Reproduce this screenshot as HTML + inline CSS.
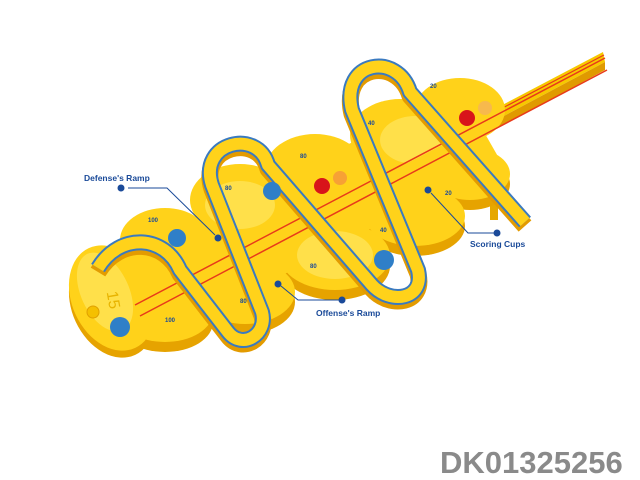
<!DOCTYPE html>
<html><head><meta charset="utf-8"><style>
html,body{margin:0;padding:0;background:#fff;width:640px;height:480px;overflow:hidden}
svg{display:block}
.lbl{font-family:"Liberation Sans",sans-serif;font-weight:bold;font-size:8.5px;fill:#1a4a99}
.num{font-family:"Liberation Sans",sans-serif;font-weight:bold;font-size:6px;fill:#1a4a99}
</style></head><body>
<svg width="640" height="480" viewBox="0 0 640 480">
<!-- rail extension -->
<polygon points="470,122 603,52 605,62 472,133" fill="#f7c800"/>
<polygon points="472,133 605,62 605,70 474,141" fill="#e09a00"/>
<line x1="470" y1="125" x2="604" y2="55" stroke="#e83a1a" stroke-width="1.2"/>
<rect x="490" y="195" width="8" height="25" fill="#e6a800"/>
<!-- base shadow -->
<g fill="#e6a300">
<ellipse cx="112" cy="305" rx="40" ry="55" transform="rotate(-25 112 305)"/>
<ellipse cx="165" cy="322" rx="48" ry="30"/>
<ellipse cx="245" cy="302" rx="50" ry="32"/>
<ellipse cx="335" cy="266" rx="55" ry="34"/>
<ellipse cx="415" cy="226" rx="50" ry="30"/>
<ellipse cx="470" cy="184" rx="40" ry="26"/>
</g>
<!-- base -->
<g fill="#ffd21a">
<ellipse cx="112" cy="298" rx="40" ry="55" transform="rotate(-25 112 298)"/>
<ellipse cx="165" cy="240" rx="45" ry="32"/>
<ellipse cx="165" cy="312" rx="48" ry="30"/>
<ellipse cx="240" cy="200" rx="50" ry="36"/>
<ellipse cx="245" cy="292" rx="50" ry="32"/>
<ellipse cx="315" cy="170" rx="50" ry="36"/>
<ellipse cx="335" cy="256" rx="55" ry="34"/>
<ellipse cx="400" cy="135" rx="50" ry="36"/>
<ellipse cx="415" cy="216" rx="50" ry="30"/>
<ellipse cx="460" cy="110" rx="45" ry="32"/>
<ellipse cx="470" cy="174" rx="40" ry="26"/>
<polygon points="110,260 460,90 500,160 160,340"/>
</g>
<g fill="#ffe04a">
<ellipse cx="105" cy="292" rx="24" ry="42" transform="rotate(-25 105 292)"/>
<ellipse cx="240" cy="205" rx="35" ry="24"/>
<ellipse cx="335" cy="255" rx="38" ry="24"/>
<ellipse cx="415" cy="140" rx="35" ry="24"/>
</g>
<text x="100" y="300" font-family="'Liberation Sans',sans-serif" font-size="16" fill="#e8b400" transform="rotate(80 108 300)">15</text>
<!-- rail -->
<polygon points="135,305 475,128 480,140 140,317" fill="#ffd21a"/>
<line x1="135" y1="305" x2="605" y2="58" stroke="#e83a1a" stroke-width="1.5"/>
<line x1="140" y1="316" x2="607" y2="70" stroke="#e83a1a" stroke-width="1.5"/>
<!-- track -->
<g fill="none" stroke-linejoin="round">
<path d="M98,268 C120,232 165,235 180,270 L228,332 C242,350 268,335 262,312 L212,185 C198,142 258,128 268,165 L372,285 C390,305 425,300 418,270 L352,110 C340,60 398,52 410,92 L525,222" stroke="#e39b00" stroke-width="17" transform="translate(0,4)"/>
<path d="M98,268 C120,232 165,235 180,270 L228,332 C242,350 268,335 262,312 L212,185 C198,142 258,128 268,165 L372,285 C390,305 425,300 418,270 L352,110 C340,60 398,52 410,92 L525,222" stroke="#3a7ac0" stroke-width="16"/>
<path d="M98,268 C120,232 165,235 180,270 L228,332 C242,350 268,335 262,312 L212,185 C198,142 258,128 268,165 L372,285 C390,305 425,300 418,270 L352,110 C340,60 398,52 410,92 L525,222" stroke="#ffd21a" stroke-width="12"/>
</g>
<!-- balls -->
<circle cx="93" cy="312" r="6" fill="#f5c000" stroke="#e0a000"/>
<g fill="#2f7fc8"><circle cx="177" cy="238" r="9"/><circle cx="120" cy="327" r="10"/><circle cx="272" cy="191" r="9"/><circle cx="384" cy="260" r="10"/></g>
<g fill="#d8141a"><circle cx="322" cy="186" r="8"/><circle cx="467" cy="118" r="8"/></g>
<circle cx="340" cy="178" r="7" fill="#f07050" opacity=".5"/>
<circle cx="485" cy="108" r="7" fill="#f0a080" opacity=".5"/>
<!-- numbers -->
<text class="num" x="148" y="222">100</text><text class="num" x="165" y="322">100</text>
<text class="num" x="225" y="190">80</text><text class="num" x="240" y="303">80</text>
<text class="num" x="300" y="158">80</text><text class="num" x="310" y="268">80</text>
<text class="num" x="368" y="125">40</text><text class="num" x="380" y="232">40</text>
<text class="num" x="430" y="88">20</text><text class="num" x="445" y="195">20</text>
<!-- labels -->
<text class="lbl" x="84" y="181">Defense's Ramp</text>
<circle cx="121" cy="188" r="3.5" fill="#1a4a99"/><circle cx="218" cy="238" r="3.5" fill="#1a4a99"/>
<polyline points="128,188 167,188 215,235" fill="none" stroke="#1a4a99" stroke-width="1"/>
<text class="lbl" x="316" y="316">Offense's Ramp</text>
<circle cx="342" cy="300" r="3.5" fill="#1a4a99"/><circle cx="278" cy="284" r="3.5" fill="#1a4a99"/>
<polyline points="339,300 298,300 281,286" fill="none" stroke="#1a4a99" stroke-width="1"/>
<text class="lbl" x="470" y="247">Scoring Cups</text>
<circle cx="497" cy="233" r="3.5" fill="#1a4a99"/><circle cx="428" cy="190" r="3.5" fill="#1a4a99"/>
<polyline points="494,233 468,233 431,193" fill="none" stroke="#1a4a99" stroke-width="1"/>
<text x="440" y="473" font-family="'Liberation Sans',sans-serif" font-weight="bold" font-size="31" fill="#8a8a8a">DK01325256</text>
</svg>
</body></html>
